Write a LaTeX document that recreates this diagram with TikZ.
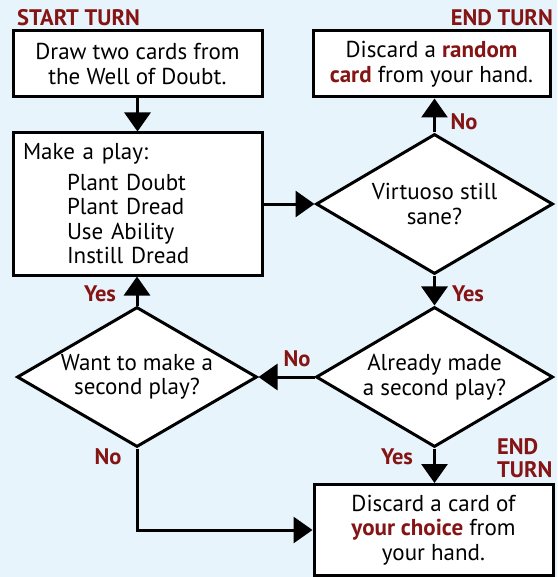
\documentclass[tikz,border=0pt]{standalone}
\usepackage{fontspec}
\setmainfont{PT Sans}
\usetikzlibrary{shapes.geometric,arrows.meta}
\definecolor{bg}{HTML}{E7F4FC}
\definecolor{dred}{HTML}{851414}
\begin{document}
\begin{tikzpicture}[x=1pt,y=-1pt,
  font=\fontsize{23}{24.5}\selectfont,
  box/.style={draw=black, line width=3pt, fill=white, inner sep=0pt, align=center},
  dia/.style={draw=black, line width=3pt, fill=white, diamond, inner sep=0pt, shape aspect=1.7,
    minimum width=237pt, minimum height=140pt, align=center},
  lab/.style={text=dred, inner sep=0pt, font=\fontsize{22.5}{23}\selectfont\bfseries},
  arr/.style={line width=3pt, -{Triangle[length=19pt,width=26pt]}}]
\fill[bg] (0,0) rectangle (557,577);
\useasboundingbox (0,0) rectangle (557,577);

\node[box, minimum width=249pt, minimum height=66pt] (b1) at (137.5,64)
  {Draw two cards from\\the Well of Doubt.};
\node[box, minimum width=249pt, minimum height=142pt, text width=229pt, align=left] (b2) at (137.5,204)
  {Make a play:\\[6pt]
   \hspace*{44pt}Plant Doubt\\
   \hspace*{44pt}Plant Dread\\
   \hspace*{44pt}Use Ability\\
   \hspace*{44pt}Instill Dread};
\node[box, minimum width=237pt, minimum height=66pt] (b3) at (431.5,64)
  {Discard a \textbf{\color{dred}random}\\\textbf{\color{dred}card} from your hand.};
\node[box, minimum width=239pt, minimum height=91pt] (b4) at (433.5,530)
  {Discard a card of\\\textbf{\color{dred}your choice} from\\your hand.};

\node[dia] (d1) at (434.5,204) {Virtuoso still\\sane?};
\node[dia] (d2) at (434.5,377) {Already made\\a second play?};
\node[dia, minimum width=240pt] (d3) at (137,377) {Want to make a\\second play?};

\node[lab, anchor=west] (st) at (17,18) {START TURN};
\node[lab, anchor=east] (et) at (553,18) {END TURN};
\node[lab] (no1) at (464,122) {No};
\node[lab] (yes1) at (468,294) {Yes};
\node[lab] (no2) at (297,359) {No};
\node[lab] (yes2) at (100,294) {Yes};
\node[lab] (no3) at (108,457) {No};
\node[lab] (yes3) at (397,457) {Yes};
\node[lab, align=left, anchor=west] (et2) at (497,458) {END\\TURN};

\draw[arr] (b1) -- (b2);
\draw[arr] (b2.east) -- (d1.west);
\draw[arr] (d1.north) -- (d1.north |- b3.south);
\draw[arr] (d1) -- (d2);
\draw[arr] (d2.west) -- (d3.east);
\draw[arr] (d3.north) -- (d3.north |- b2.south);
\draw[arr] (d2.south) -- (d2.south |- b4.north);
\draw[arr] (d3.south) |- (b4.west);
\end{tikzpicture}
\end{document}
